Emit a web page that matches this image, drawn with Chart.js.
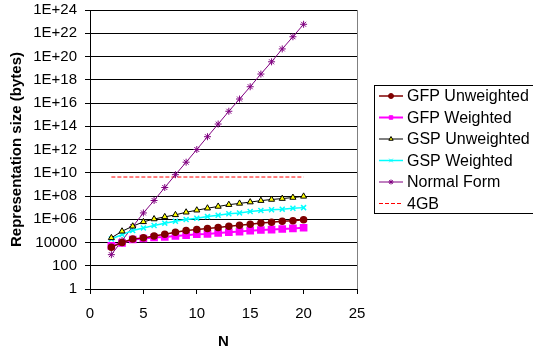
<!DOCTYPE html>
<html>
<head>
<meta charset="utf-8">
<script src="https://cdn.jsdelivr.net/npm/chart.js@4/dist/chart.umd.min.js"></script>
<style>
  body { margin: 0; background: #fff; }
  #wrap { width: 533px; height: 351px; position: relative; }
</style>
</head>
<body>
<div id="wrap"><canvas id="sizeChart"></canvas></div>
<script>
// N values on the x axis
const nValues = [2, 3, 4, 5, 6, 7, 8, 9, 10, 11, 12, 13, 14, 15, 16, 17, 18, 19, 20];

// representation sizes in bytes
const gfpUnweighted = [4000, 10000, 20000, 25000, 37000, 51000, 76000, 107000, 130000, 160000,
    195000, 250000, 300000, 370000, 480000, 550000, 680000, 760000, 890000];
const gfpWeighted = [5200, 9300, 18000, 22000, 27000, 30000, 37000, 43000, 51000, 55000,
    66000, 76000, 87000, 105000, 120000, 130000, 145000, 162000, 186000];
const gspUnweighted = [25000, 93000, 250000, 600000, 1.05e6, 1.6e6, 2.4e6, 4e6, 6e6, 8.9e6,
    1.26e7, 1.8e7, 2.3e7, 3e7, 4e7, 5e7, 6e7, 7.4e7, 9.3e7];
const gspWeighted = [20000, 48000, 107000, 180000, 290000, 460000, 680000, 930000, 1.23e6, 1.7e6,
    2.2e6, 2.95e6, 3.5e6, 4.6e6, 5.6e6, 6.5e6, 7.4e6, 8.9e6, 1e7];
const normalForm = [900, 1.45e4, 2.3e5, 3.5e6, 4.1e7, 5.4e8, 6.8e9, 8.1e10, 1e12, 1.26e13,
    1.55e14, 1.95e15, 2.2e16, 2.5e17, 3.1e18, 3.5e19, 4.5e20, 5e21, 5.9e22];
const fourGBx = [2, 20];
const fourGB = 4294967296;

const yTicks = [1, 100, 1e4, 1e6, 1e8, 1e10, 1e12, 1e14, 1e16, 1e18, 1e20, 1e22, 1e24];
const seriesNames = ["GFP Unweighted", "GFP Weighted", "GSP Unweighted", "GSP Weighted", "Normal Form", "4GB"];

const font = "'Liberation Sans', Arial, sans-serif";

function pts(ys) {
    return nValues.map((n, i) => ({ x: n, y: ys[i] }));
}

function fmtTick(v) {
    if (v < 1e5) return String(v);
    const e = Math.round(Math.log10(v));
    return "1E+" + String(e).padStart(2, "0");
}

// legend box drawn by hand, Excel style
const legendBox = {
    id: "legendBox",
    afterDraw(chart) {
        const ctx = chart.ctx;
        ctx.save();
        ctx.fillStyle = "#fff";
        ctx.strokeStyle = "#000";
        ctx.lineWidth = 1;
        ctx.fillRect(374.5, 85.5, 170, 128);
        ctx.strokeRect(374.5, 85.5, 170, 128);
        chart.data.datasets.forEach((ds, i) => {
            const y = 96 + i * 21.5;
            ctx.strokeStyle = ds.borderColor;
            ctx.lineWidth = ds.borderWidth;
            ctx.setLineDash(ds.borderDash || []);
            ctx.beginPath();
            ctx.moveTo(379, y);
            ctx.lineTo(403, y);
            ctx.stroke();
            ctx.setLineDash([]);
            if (ds.pointRadius > 0) {
                ctx.fillStyle = ds.pointBackgroundColor;
                ctx.strokeStyle = ds.pointBorderColor;
                ctx.lineWidth = 1;
                Chart.helpers.drawPoint(ctx, { pointStyle: ds.pointStyle, radius: 2.5, rotation: 0, borderWidth: 1 }, 391, y);
            }
            ctx.fillStyle = "#000";
            ctx.font = "16px " + font;
            ctx.textBaseline = "middle";
            ctx.fillText(ds.label, 407, y + 1);
        });
        ctx.restore();
    }
};

// grey frame on the right of the plot area
const plotFrame = {
    id: "plotFrame",
    beforeDatasetsDraw(chart) {
        const a = chart.chartArea;
        const ctx = chart.ctx;
        ctx.save();
        ctx.strokeStyle = "#808080";
        ctx.lineWidth = 1;
        ctx.beginPath();
        ctx.moveTo(Math.round(a.right) + 0.5, a.top);
        ctx.lineTo(Math.round(a.right) + 0.5, a.bottom);
        ctx.stroke();
        ctx.restore();
    }
};

const ctx = document.getElementById("sizeChart").getContext("2d");
new Chart(ctx, {
    type: "line",
    data: {
        datasets: [
            { label: seriesNames[0], data: pts(gfpUnweighted), borderColor: "#800000", borderWidth: 1.5,
              pointStyle: "circle", pointRadius: 3, pointBackgroundColor: "#800000", pointBorderColor: "#800000" },
            { label: seriesNames[1], data: pts(gfpWeighted), borderColor: "#FF00FF", borderWidth: 2,
              pointStyle: "rect", pointRadius: 4, pointBackgroundColor: "#FF00FF", pointBorderColor: "#FF00FF" },
            { label: seriesNames[2], data: pts(gspUnweighted), borderColor: "#000000", borderWidth: 1,
              pointStyle: "triangle", pointRadius: 3.5, pointBackgroundColor: "#FFFF00", pointBorderColor: "#000000" },
            { label: seriesNames[3], data: pts(gspWeighted), borderColor: "#00FFFF", borderWidth: 1.5,
              pointStyle: "crossRot", pointRadius: 3.5, pointBackgroundColor: "#00FFFF", pointBorderColor: "#00FFFF" },
            { label: seriesNames[4], data: pts(normalForm), borderColor: "#800080", borderWidth: 1,
              pointStyle: "star", pointRadius: 3.5, pointBackgroundColor: "#800080", pointBorderColor: "#800080" },
            { label: seriesNames[5], data: fourGBx.map(x => ({ x: x, y: fourGB })), borderColor: "#FF0000",
              borderWidth: 1, borderDash: [4, 2], pointRadius: 0, pointBackgroundColor: "#FF0000", pointBorderColor: "#FF0000" }
        ]
    },
    options: {
        responsive: true,
        maintainAspectRatio: false,
        animation: false,
        layout: { padding: { left: 0, right: 176, top: 0, bottom: 0 } },
        plugins: {
            legend: { display: false },
            tooltip: { enabled: false }
        },
        elements: { line: { tension: 0 } },
        scales: {
            x: {
                type: "linear",
                min: 0,
                max: 25,
                ticks: { stepSize: 5, color: "#000", font: { family: font, size: 15 }, padding: 11, maxRotation: 0 },
                grid: { drawOnChartArea: false, drawTicks: true, tickLength: 5, color: "#000" },
                border: { color: "#000" },
                title: { display: true, text: "N", color: "#000", font: { family: font, size: 15, weight: "bold" }, padding: { top: 4, bottom: 0 } },
                afterFit(scale) { scale.height = 62; }
            },
            y: {
                type: "logarithmic",
                min: 1,
                max: 1e24,
                afterBuildTicks(scale) { scale.ticks = yTicks.map(v => ({ value: v })); },
                ticks: { color: "#000", font: { family: font, size: 15 }, padding: 8, callback: v => fmtTick(v) },
                grid: { color: "#000", tickLength: 5, lineWidth: 1 },
                border: { color: "#000" },
                title: { display: true, text: "Representation size (bytes)", color: "#000",
                         font: { family: font, size: 15, weight: "bold" }, padding: { top: 8, bottom: 0 } },
                afterFit(scale) { scale.width = 90; scale.paddingTop = 10; }
            }
        }
    },
    plugins: [plotFrame, legendBox]
});
</script>
</body>
</html>
